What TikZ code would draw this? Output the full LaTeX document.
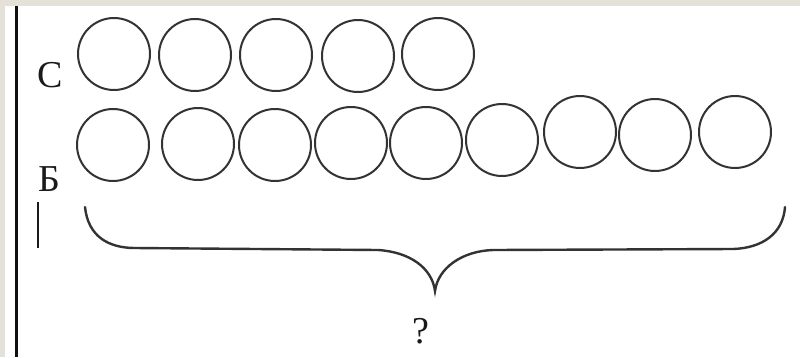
\documentclass[tikz,border=0pt]{standalone}
\usepackage{fontspec}
\setmainfont{Liberation Serif}
\newfontfamily\pgserif{Liberation Serif}
\usepackage{xcolor}
\usetikzlibrary{positioning}
\definecolor{PgFrame}{HTML}{E4E1D9}
\definecolor{PgWhite}{HTML}{FFFFFF}
\definecolor{PgInk}  {HTML}{333333}
\definecolor{PgText} {HTML}{1A1A1A}
\definecolor{PgRule} {HTML}{111111}

\begin{document}
\begin{tikzpicture}[x=1pt,y=-1pt,
    ball/.style={circle,draw=PgInk,line width=2pt,minimum size=72pt,inner sep=0pt},
    lbl/.style={font=\pgserif\fontsize{38}{40}\selectfont,text=PgText,anchor=base,inner sep=0pt},
    brace/.style={draw=PgInk,line width=2.4pt,line cap=round}]
    \useasboundingbox (0,0) rectangle (800,357);
    % page
    \fill[PgFrame] (0,0) rectangle (800,357);
    \fill[PgWhite] (5,6) rectangle (800,357);
    \draw[PgRule,line width=3pt] (16,6) -- (16,357);

    % row C
    \node[lbl] (lc) at (50,87) {С};
    \node[ball] (c1) at (114,54) {};
    \node[ball] (c2) at (195,55) {};
    \node[ball] (c3) at (276,55) {};
    \node[ball] (c4) at (358,56) {};
    \node[ball] (c5) at (438,54) {};

    % row B
    \node[lbl] (lb) at (49,191) {Б};
    \draw[PgText,line width=2pt] (38,202) -- (38,248);
    \node[ball] (b1) at (113,145) {};
    \node[ball] (b2) at (198,144) {};
    \node[ball] (b3) at (275,145) {};
    \node[ball] (b4) at (351,143) {};
    \node[ball] (b5) at (426,143) {};
    \node[ball] (b6) at (502,140) {};
    \node[ball] (b7) at (580,132) {};
    \node[ball] (b8) at (655,135) {};
    \node[ball] (b9) at (735,132) {};

    % brace
    \coordinate (bl) at (85,207);
    \coordinate (bt) at (435,291);
    \coordinate (br) at (785,207);
    \draw[brace] (bl) .. controls (88,236) and (108,248) .. (135,248) -- (378,250)
        .. controls (410,252) and (432,268) .. (bt)
        .. controls (438,268) and (462,251) .. (493,250) -- (733,249)
        .. controls (762,248) and (783,234) .. (br);
    \node[lbl] (q) at (421,343) {?};
\end{tikzpicture}
\end{document}
